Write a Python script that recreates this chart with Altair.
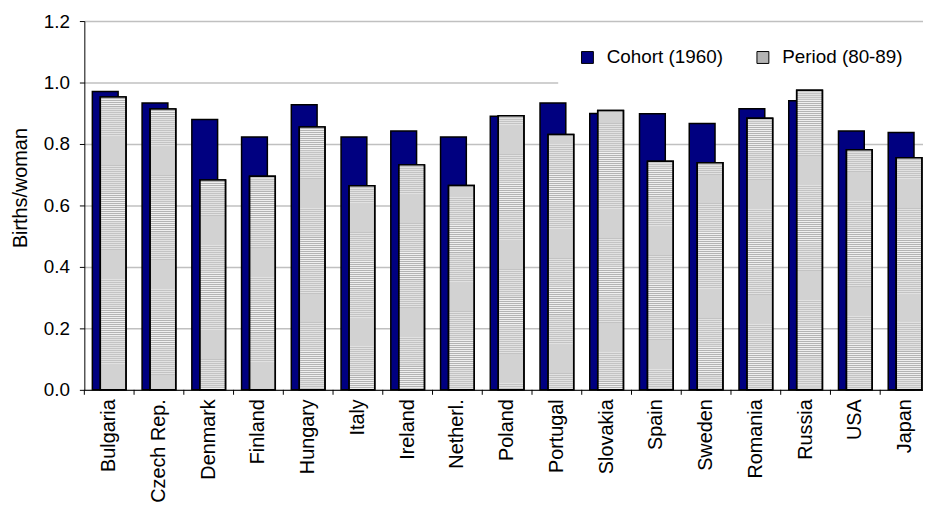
import altair as alt
import pandas as pd

countries = ["Bulgaria", "Czech Rep.", "Denmark", "Finland", "Hungary", "Italy",
             "Ireland", "Netherl.", "Poland", "Portugal", "Slovakia", "Spain",
             "Sweden", "Romania", "Russia", "USA", "Japan"]
cohort = [0.971, 0.933, 0.880, 0.823, 0.928, 0.823, 0.842, 0.823, 0.890,
          0.933, 0.899, 0.898, 0.867, 0.915, 0.941, 0.842, 0.837]
period = [0.953, 0.914, 0.683, 0.695, 0.855, 0.664, 0.732, 0.665, 0.892,
          0.831, 0.909, 0.744, 0.739, 0.884, 0.975, 0.781, 0.755]
series_names = ["Cohort (1960)", "Period (80-89)"]
y_ticks = [0.0, 0.2, 0.4, 0.6, 0.8, 1.0, 1.2]

rows = []
for c, v in zip(countries, cohort):
    rows.append({"country": c, "series": series_names[0], "value": v})
for c, v in zip(countries, period):
    rows.append({"country": c, "series": series_names[1], "value": v})
df = pd.DataFrame(rows)

FONT = "Liberation Sans"
NAVY = "#000080"
GREY = "#b4b4b4"

xenc = alt.X(
    "country:N", sort=countries,
    scale=alt.Scale(domain=countries, range=[0, 853], paddingInner=0, paddingOuter=0),
    axis=alt.Axis(title=None, labelAngle=-90, ticks=False, tickSize=0, labelPadding=9,
                  labelFontSize=20, labelFont=FONT, labelColor="black",
                  domainColor="black", domainWidth=1, grid=False),
)
yaxis = alt.Axis(values=y_ticks, format=".1f", title="Births/woman",
                 labelFontSize=19, labelFont=FONT, labelColor="black",
                 labelPadding=10, tickSize=5, tickColor="black",
                 domainColor="black", domainWidth=1,
                 grid=True, gridColor="#c0c0c0", gridWidth=1.5,
                 titleFont=FONT, titleFontSize=20, titleFontWeight="normal",
                 titleColor="black", titleX=-58, titleY=168,
                 titleAlign="center", titleBaseline="alphabetic")
yscale = alt.Scale(domain=[0, 1.2], nice=False, zero=True)
yenc = alt.Y("value:Q", scale=yscale, axis=yaxis)

color = alt.Color(
    "series:N",
    scale=alt.Scale(domain=series_names, range=[NAVY, GREY]),
    legend=alt.Legend(orient="none", legendX=478, legendY=7, direction="horizontal",
                      title=None, fillColor="white", padding=20,
                      symbolType="square", symbolSize=144,
                      symbolStrokeColor="black", symbolStrokeWidth=1,
                      symbolOpacity=1, labelFontSize=19, labelFont=FONT,
                      labelColor="black", labelOffset=10, columnPadding=30),
)

base = alt.Chart(df)
is_cohort = alt.datum.series == series_names[0]
is_period = alt.datum.series == series_names[1]

cohort_bars = base.transform_filter(is_cohort).mark_bar(
    width=26, xOffset=-4, stroke="black", strokeWidth=1.5, opacity=1
).encode(x=xenc, y=yenc, color=color)

period_bars = base.transform_filter(is_period).mark_bar(
    width=26, xOffset=4, stroke="black", strokeWidth=1.5, opacity=1
).encode(x=xenc, y=yenc, color=color)

stripes = base.transform_filter(is_period).mark_rule(
    xOffset=4, strokeWidth=24, strokeDash=[1, 1], strokeCap="butt", color="#efefef"
).encode(x=xenc, y=yenc, y2=alt.datum(0))

outline = base.transform_filter(is_period).mark_bar(
    width=26, xOffset=4, stroke="black", strokeWidth=1.5, fillOpacity=0, color="black"
).encode(x=xenc, y=yenc)

ticks = base.transform_filter(is_cohort).mark_rule(
    xOffset=-25.09, color="black", strokeWidth=1
).encode(x=xenc, y=alt.value(372), y2=alt.value(377))

chart = alt.layer(cohort_bars, period_bars, stripes, outline, ticks).properties(
    width=846, height=372,
    autosize=alt.AutoSizeParams(type="none"),
    padding={"left": 77, "top": 11, "right": 0, "bottom": 114},
    background="white",
).configure_view(strokeWidth=0)

chart.save("out.html", embed_options={"renderer": "svg", "actions": False})
